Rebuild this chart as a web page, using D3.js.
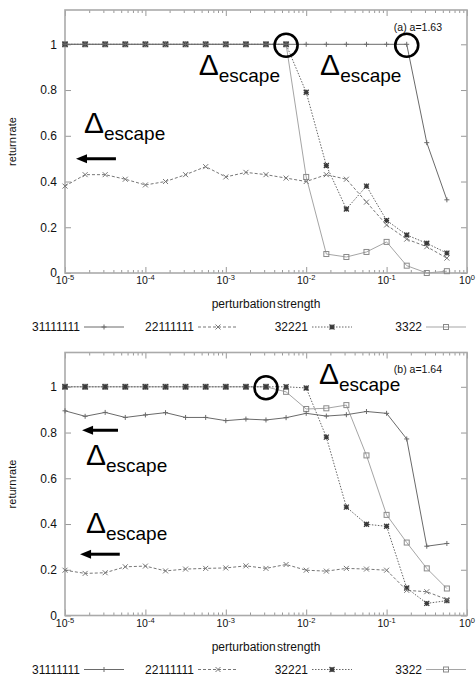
<!DOCTYPE html>
<html>
<head>
<meta charset="utf-8">
<script src="https://cdn.jsdelivr.net/npm/d3@7"></script>
<style>
  body { margin: 0; background: #fff; }
  text { font-family: "Liberation Sans", Arial, sans-serif; fill: #111; }
</style>
</head>
<body>
<div id="chart"></div>
<script>
// perturbation strengths (x), shared by every series
const strengths = [1e-5, 1.78e-5, 3.16e-5, 5.62e-5, 1e-4, 1.78e-4, 3.16e-4, 5.62e-4,
  1e-3, 1.78e-3, 3.16e-3, 5.62e-3, 1e-2, 1.78e-2, 3.16e-2, 5.62e-2, 0.1, 0.178, 0.316, 0.562];

const seriesNames = ["31111111", "22111111", "32221", "3322"];

// panel (a), a = 1.63
const a31111111 = [1, 1, 1, 1, 1, 1, 1, 1, 1, 1, 1, 1, 1, 1, 1, 1, 1, 1, 0.57, 0.32];
const a22111111 = [0.38, 0.43, 0.43, 0.41, 0.385, 0.40, 0.43, 0.465, 0.42, 0.44, 0.43, 0.415, 0.40, 0.43, 0.41, 0.31, 0.21, 0.148, 0.115, 0.065];
const a32221 = [1, 1, 1, 1, 1, 1, 1, 1, 1, 1, 1, 1, 0.79, 0.47, 0.28, 0.38, 0.23, 0.166, 0.13, 0.087];
const a3322 = [1, 1, 1, 1, 1, 1, 1, 1, 1, 1, 1, 1, 0.42, 0.083, 0.07, 0.092, 0.136, 0.032, 0.0, 0.008];

// panel (b), a = 1.64
const b31111111 = [0.895, 0.871, 0.888, 0.866, 0.877, 0.887, 0.866, 0.866, 0.852, 0.859, 0.855, 0.865, 0.884, 0.872, 0.878, 0.892, 0.884, 0.772, 0.303, 0.315];
const b22111111 = [0.198, 0.184, 0.187, 0.213, 0.216, 0.195, 0.203, 0.206, 0.208, 0.217, 0.206, 0.223, 0.198, 0.194, 0.206, 0.203, 0.198, 0.11, 0.104, 0.07];
const b32221 = [1, 1, 1, 1, 1, 1, 1, 1, 1, 1, 1, 1, 0.995, 0.78, 0.474, 0.399, 0.39, 0.12, 0.053, 0.065];
const b3322 = [1, 1, 1, 1, 1, 1, 1, 1, 1, 1, 1, 0.978, 0.903, 0.906, 0.92, 0.70, 0.44, 0.319, 0.206, 0.118];

const yTicks = [0, 0.2, 0.4, 0.6, 0.8, 1];
const xTicks = [1e-5, 1e-4, 1e-3, 1e-2, 1e-1, 1];
const xExponents = ["-5", "-4", "-3", "-2", "-1", "0"];

// annotations, in data coordinates
const aCircles = [[5.62e-3, 1], [0.178, 1]];
const aDeltas = [[4.6e-4, 0.865], [0.0149, 0.865], [1.72e-5, 0.611]];
const aArrows = [[4.3e-5, 1.37e-5, 0.5]];
const bCircles = [[3.16e-3, 1]];
const bDeltas = [[0.0144, 1.013], [1.82e-5, 0.66], [1.82e-5, 0.36]];
const bArrows = [[4.56e-5, 1.63e-5, 0.81], [4.8e-5, 1.54e-5, 0.268]];

const width = 476, height = 680;
const margin = {left: 65, right: 9};
const plotW = width - margin.left - margin.right;
const plotH = 263;

const styles = [
  {stroke: "#6a6a6a", dash: null, marker: "plus"},
  {stroke: "#777", dash: "3,2", marker: "cross"},
  {stroke: "#666", dash: "1.5,1.5", marker: "star"},
  {stroke: "#a5a5a5", dash: null, marker: "box"}
];

const svg = d3.select("#chart").append("svg")
  .attr("width", width)
  .attr("height", height);

function drawMarker(g, type, x, y, color) {
  let s = 2.5;
  if (type === "box") {
    g.append("rect").attr("x", x - s).attr("y", y - s)
      .attr("width", 2 * s).attr("height", 2 * s)
      .attr("fill", "none").attr("stroke", "#8a8a8a");
    return;
  }
  let d = "";
  if (type === "plus" || type === "star") d += `M${x - s},${y}H${x + s}M${x},${y - s}V${y + s}`;
  if (type === "cross" || type === "star") d += `M${x - s},${y - s}L${x + s},${y + s}M${x - s},${y + s}L${x + s},${y - s}`;
  g.append("path").attr("d", d).attr("stroke", type === "star" ? "#3a3a3a" : color)
    .attr("stroke-width", type === "star" ? 1.3 : 1).attr("fill", "none");
}

function panel(top, series, tag, circles, deltas, arrows) {
  let g = svg.append("g").attr("transform", "translate(" + margin.left + "," + top + ")");

  let x = d3.scaleLog().domain([1e-5, 1]).range([0, plotW]);
  let y = d3.scaleLinear().domain([0, 1.15]).range([plotH, 0]);

  let minors = [];
  for (let e = -5; e < 0; e++) {
    for (let m = 2; m <= 9; m++) minors.push(m * Math.pow(10, e));
  }

  // inward gnuplot style ticks on all four sides
  let tickColor = "#999";
  let axes = [
    [d3.axisBottom(x).tickValues(xTicks).tickSize(-6).tickFormat(""), "translate(0," + plotH + ")"],
    [d3.axisBottom(x).tickValues(minors).tickSize(-3).tickFormat(""), "translate(0," + plotH + ")"],
    [d3.axisTop(x).tickValues(xTicks).tickSize(-6).tickFormat(""), null],
    [d3.axisTop(x).tickValues(minors).tickSize(-3).tickFormat(""), null],
    [d3.axisRight(y).tickValues(yTicks).tickSize(-6).tickFormat(""), "translate(" + plotW + ",0)"],
    [d3.axisLeft(y).tickValues(yTicks).tickSize(-6).tickPadding(8).tickFormat(d3.format("~g")), null]
  ];
  axes.forEach(a => {
    let ag = g.append("g").call(a[0]);
    if (a[1]) ag.attr("transform", a[1]);
    ag.select(".domain").remove();
    ag.selectAll(".tick line").attr("stroke", tickColor);
    ag.selectAll(".tick text").attr("font-size", 12).attr("fill", "#111")
      .attr("font-family", "Liberation Sans, Arial, sans-serif");
  });

  g.append("rect")
    .attr("width", plotW)
    .attr("height", plotH)
    .attr("fill", "none")
    .attr("stroke", "#aaa")
    .attr("stroke-width", 1.6);

  // x tick labels 10^n
  let xl = g.append("g");
  xTicks.forEach((t, i) => {
    let tx = xl.append("text")
      .attr("x", x(t))
      .attr("y", plotH + 11)
      .attr("text-anchor", "middle")
      .attr("font-size", 10.5);
    tx.append("tspan").text("10");
    tx.append("tspan").attr("font-size", 7.5).attr("dy", -4).text(xExponents[i]);
  });

  g.append("text")
    .attr("x", plotW / 2)
    .attr("y", plotH + 35)
    .attr("text-anchor", "middle")
    .attr("font-size", 12)
    .attr("word-spacing", -2)
    .text("perturbation strength");

  g.append("text")
    .attr("transform", "translate(-49," + (plotH / 2) + ") rotate(-90)")
    .attr("text-anchor", "middle")
    .attr("font-size", 11)
    .attr("word-spacing", -2)
    .text("return rate");

  // series lines and markers
  let line = d3.line().x((d, i) => x(strengths[i])).y(d => y(d));
  series.slice().reverse().forEach((vals, ri) => {
    let si = series.length - 1 - ri;
    let st = styles[si];
    g.append("path")
      .attr("d", line(vals))
      .attr("fill", "none")
      .attr("stroke", st.stroke)
      .attr("stroke-width", 1)
      .attr("stroke-dasharray", st.dash);
    let mg = g.append("g");
    vals.forEach((v, i) => drawMarker(mg, st.marker, x(strengths[i]), y(v), st.stroke));
  });

  g.append("text")
    .attr("x", x(0.489))
    .attr("y", y(1.06))
    .attr("text-anchor", "end")
    .attr("font-size", 10.5)
    .text(tag);

  // annotations
  circles.forEach(c => {
    g.append("circle")
      .attr("cx", x(c[0]))
      .attr("cy", y(c[1]) + 1)
      .attr("r", 11.5)
      .attr("fill", "none")
      .attr("stroke", "#000")
      .attr("stroke-width", 2.6);
  });

  deltas.forEach(d => {
    let t = g.append("text")
      .attr("x", x(d[0]))
      .attr("y", y(d[1]));
    t.append("tspan").attr("font-size", 30).attr("fill", "#000").text("\u0394");
    t.append("tspan").attr("font-size", 19).attr("dy", 7).attr("fill", "#000").text("escape");
  });

  arrows.forEach(a => {
    let x0 = x(a[0]), x1 = x(a[1]), yy = y(a[2]);
    g.append("line")
      .attr("x1", x0).attr("x2", x1 + 8)
      .attr("y1", yy).attr("y2", yy)
      .attr("stroke", "#000")
      .attr("stroke-width", 3);
    g.append("path")
      .attr("d", `M${x1},${yy}L${x1 + 11},${yy - 4.5}L${x1 + 11},${yy + 4.5}Z`)
      .attr("fill", "#000");
  });

  // legend under the x axis
  let lg = g.append("g").attr("transform", "translate(0," + (plotH + 58) + ")");
  seriesNames.forEach((name, i) => {
    let ex = 80 - margin.left + i * 114;
    lg.append("text")
      .attr("x", ex)
      .attr("text-anchor", "end")
      .attr("font-size", 12)
      .text(name);
    lg.append("line")
      .attr("x1", ex + 4).attr("x2", ex + 44)
      .attr("y1", -4).attr("y2", -4)
      .attr("stroke", styles[i].stroke)
      .attr("stroke-dasharray", styles[i].dash);
    drawMarker(lg, styles[i].marker, ex + 24, -4, styles[i].stroke);
  });
}

panel(10, [a31111111, a22111111, a32221, a3322], "(a) a=1.63", aCircles, aDeltas, aArrows);
panel(352.5, [b31111111, b22111111, b32221, b3322], "(b) a=1.64", bCircles, bDeltas, bArrows);
</script>
</body>
</html>
